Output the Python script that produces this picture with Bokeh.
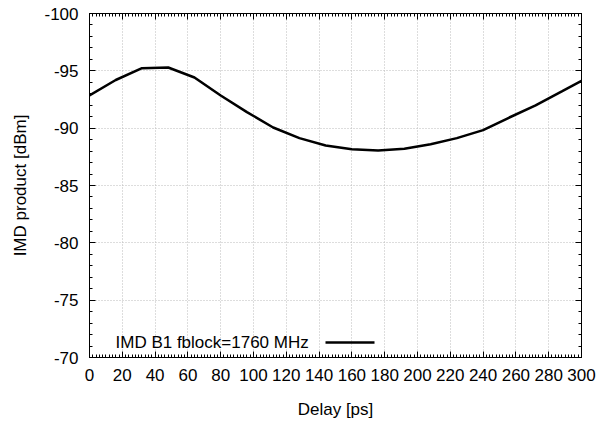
from bokeh.plotting import figure
from bokeh.models import Range1d, LinearAxis, FixedTicker, Label, Arrow, CustomJSTickFormatter
from bokeh.embed import file_html
from bokeh.resources import INLINE

# Data
delay_ps = [0, 16, 32, 48, 64, 80, 96, 112, 128, 144, 160, 176, 192, 208, 224, 240, 256, 272, 288, 300]
imd_dbm = [-92.85, -94.2, -95.23, -95.29, -94.42, -92.85, -91.4, -90.06, -89.13, -88.49,
           -88.17, -88.05, -88.2, -88.6, -89.13, -89.83, -90.93, -91.98, -93.2, -94.13]
x_ticks = list(range(0, 301, 20))
x_minor = list(range(0, 301, 2))
y_ticks = [-100, -95, -90, -85, -80, -75, -70]
y_minor = list(range(-100, -69, 1))
series_label = "IMD B1 fblock=1760 MHz"

FONT = "Liberation Sans"
FS = "17px"

p = figure(width=609, height=421, output_backend="svg", toolbar_location=None,
           x_range=Range1d(0, 300), y_range=Range1d(-70, -100),
           min_border_left=89, min_border_right=28, min_border_top=13, min_border_bottom=60,
           x_axis_label="Delay [ps]", y_axis_label="IMD product [dBm]")
p.outline_line_color = "black"
p.background_fill_color = "white"
p.border_fill_color = "white"

p.line(delay_ps, imd_dbm, line_color="black", line_width=2.5)

def style_axis(ax, ticks, minor, labels=True):
    ax.ticker = FixedTicker(ticks=ticks, minor_ticks=minor)
    ax.major_tick_in = 6
    ax.major_tick_out = 0
    ax.minor_tick_in = 3
    ax.minor_tick_out = 0
    ax.axis_line_color = "black"
    ax.major_tick_line_color = "black"
    ax.minor_tick_line_color = "black"
    ax.major_label_text_font = FONT
    ax.major_label_text_font_size = FS
    ax.major_label_text_color = "black"
    ax.axis_label_text_font = FONT
    ax.axis_label_text_font_size = FS
    ax.axis_label_text_font_style = "normal"
    ax.axis_label_text_color = "black"
    if labels:
        ax.formatter = CustomJSTickFormatter(code="return tick.toString()")
    else:
        ax.formatter = CustomJSTickFormatter(code="return ''")
        ax.major_label_standoff = 0

xa = p.xaxis[0]
ya = p.yaxis[0]
style_axis(xa, x_ticks, x_minor)
style_axis(ya, y_ticks, y_minor)
xa.major_label_standoff = 11
xa.axis_label_standoff = 16
ya.major_label_standoff = 11
ya.axis_label_standoff = 11

top = LinearAxis()
style_axis(top, x_ticks, x_minor, labels=False)
p.add_layout(top, "above")
right = LinearAxis()
style_axis(right, y_ticks, y_minor, labels=False)
p.add_layout(right, "right")

p.xgrid.ticker = FixedTicker(ticks=x_ticks)
p.ygrid.ticker = FixedTicker(ticks=y_ticks)
for g in (p.xgrid[0], p.ygrid[0]):
    g.grid_line_color = "#bbbbbb"
    g.grid_line_dash = "1 2"
    g.grid_line_width = 1

lbl = Label(x=26, y=15, x_units="screen", y_units="screen", text=series_label,
            text_font=FONT, text_font_size=FS, text_baseline="middle", text_color="black")
p.add_layout(lbl)
sample = Arrow(end=None, x_start=236, y_start=15, x_end=285, y_end=15,
               start_units="screen", end_units="screen", line_color="black", line_width=2.5)
p.add_layout(sample)

open("out.html", "w").write(file_html(p, INLINE))
